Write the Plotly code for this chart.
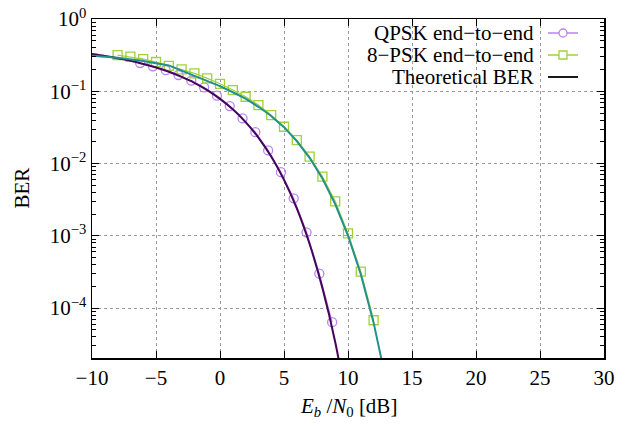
import plotly.graph_objects as go

# ---------------- data ----------------
qpsk_x = [-6.24, -5.24, -4.24, -3.24, -2.24, -1.24, -0.24, 0.76, 1.76, 2.76,
          3.76, 4.76, 5.76, 6.76, 7.76, 8.76]
qpsk_ber = [0.246, 0.222, 0.196, 0.168, 0.140, 0.113, 0.087, 0.0624, 0.0421, 0.0272,
            0.0152, 0.0076, 0.0033, 0.00112, 0.00030, 6.4e-5]

psk8_x = [-8, -7, -6, -5, -4, -3, -2, -1, 0, 1, 2, 3, 4, 5, 6, 7, 8, 9, 10, 11, 12]
psk8_ber = [0.317, 0.301, 0.279, 0.254, 0.225, 0.201, 0.177, 0.151, 0.127, 0.104,
            0.084, 0.0644, 0.0468, 0.0323, 0.0211, 0.0125, 0.0066, 0.0030, 0.00108,
            3.2e-4, 6.8e-5]

theo_qpsk_x = [-10, -9, -8, -7, -6, -5, -4, -3, -2, -1, 0, 1, 2, 3, 4, 5, 6, 7, 8, 9, 10]
theo_qpsk_ber = [0.327, 0.308, 0.287, 0.264, 0.239, 0.213, 0.186, 0.158, 0.131, 0.104,
                 0.0786, 0.0563, 0.0375, 0.0229, 0.0125, 0.00595, 0.00239, 7.7e-4,
                 1.9e-4, 3.4e-5, 3.9e-6]

theo_8psk_x = [-10, -8, -6, -4, -1.56, 0, 1, 2, 3, 3.9, 5, 6, 7, 8, 9, 10, 11, 12, 13]
theo_8psk_ber = [0.310, 0.290, 0.263, 0.228, 0.152, 0.118, 0.097, 0.079, 0.061, 0.047,
                 0.0319, 0.0205, 0.0120, 0.0062, 0.00275, 0.00101, 2.94e-4, 6.3e-5, 9.4e-6]

x_ticks = [-10, -5, 0, 5, 10, 15, 20, 25, 30]
x_ticktext = ["\u221210", "\u22125", "0", "5", "10", "15", "20", "25", "30"]
y_ticks = [1, 0.1, 0.01, 0.001, 0.0001]
y_ticktext = ["10<sup>0</sup>", "10<sup>\u22121</sup>", "10<sup>\u22122</sup>",
              "10<sup>\u22123</sup>", "10<sup>\u22124</sup>"]
legend_labels = ["QPSK end\u2212to\u2212end", "8\u2212PSK end\u2212to\u2212end", "Theoretical BER"]

# ---------------- styles ----------------
C_QPSK_PT = "#b883f2"
C_8PSK_PT = "#9ed13a"
C_QPSK_TH = "#44045a"
C_8PSK_TH = "#22908c"
FONT = "Liberation Serif"
FS = 21

# page body margin is removed by the post script below, so page px == figure px
W, H = 629, 427
PL, PR, PT, PB = 92, 604, 19, 358          # plot box in page pixels
L, T, R, B = PL, PT, W - PR, H - PB
PW, PH = PR - PL, PB - PT

fig = go.Figure()
fig.add_trace(go.Scatter(x=qpsk_x, y=qpsk_ber, mode="lines+markers",
                         line=dict(color=C_QPSK_PT, width=1.2),
                         marker=dict(symbol="circle-open", size=9, color=C_QPSK_PT,
                                     line=dict(width=1.3, color=C_QPSK_PT)),
                         showlegend=False))
fig.add_trace(go.Scatter(x=psk8_x, y=psk8_ber, mode="lines+markers",
                         line=dict(color=C_8PSK_PT, width=1.2),
                         marker=dict(symbol="square-open", size=9, color=C_8PSK_PT,
                                     line=dict(width=1.3, color=C_8PSK_PT)),
                         showlegend=False))
fig.add_trace(go.Scatter(x=theo_qpsk_x, y=theo_qpsk_ber, mode="lines",
                         line=dict(color=C_QPSK_TH, width=2, shape="spline", smoothing=0.8),
                         showlegend=False))
fig.add_trace(go.Scatter(x=theo_8psk_x, y=theo_8psk_ber, mode="lines",
                         line=dict(color=C_8PSK_TH, width=2),
                         showlegend=False))

minor_vals = [m * 10 ** e for e in range(-5, 0) for m in range(2, 10)]

fig.update_xaxes(range=[-10, 30], tickmode="array", tickvals=x_ticks, ticktext=x_ticktext,
                 automargin=False, ticklabeloverflow="allow",
                 ticks="inside", ticklen=7, tickcolor="black", tickwidth=1,
                 showline=True, linecolor="black", linewidth=1.5, mirror="ticks",
                 showgrid=True, gridcolor="#9a9a9a", griddash="dot", gridwidth=1,
                 zeroline=False, tickfont=dict(family=FONT, size=FS, color="black"))
fig.update_yaxes(type="log", range=[-4.69, 0], tickmode="array", tickvals=y_ticks,
                 ticktext=y_ticktext, automargin=False, ticklabeloverflow="allow",
                 ticks="inside", ticklen=7, tickcolor="black", tickwidth=1,
                 showline=True, linecolor="black", linewidth=1.5, mirror="ticks",
                 showgrid=True, gridcolor="#9a9a9a", griddash="dot", gridwidth=1,
                 zeroline=False, tickfont=dict(family=FONT, size=FS, color="black"),
                 minor=dict(tickmode="array", tickvals=minor_vals, ticks="inside",
                            ticklen=4, tickcolor="black", showgrid=False))

def px2paper(px, py):
    """page pixel -> paper coordinates of the plot box"""
    return (px - PL) / PW, (PB - py) / PH

annotations = []
bx, by = px2paper(21, (PT + PB) / 2)
annotations.append(dict(text="BER", x=bx, y=by, xref="paper", yref="paper",
                        xanchor="center", yanchor="middle", showarrow=False, textangle=-90,
                        font=dict(family=FONT, size=FS, color="black")))
tx, ty = px2paper((PL + PR) / 2, 407)
annotations.append(dict(text="<i>E</i><sub><i>b</i></sub> /<i>N</i><sub>0</sub> [dB]",
                        x=tx, y=ty, xref="paper", yref="paper",
                        xanchor="center", yanchor="middle", showarrow=False,
                        font=dict(family=FONT, size=FS, color="black")))

shapes = []
leg_rows = [33, 55, 77]
leg_colors = [C_QPSK_PT, C_8PSK_PT, "black"]
leg_syms = ["circle", "rect", None]
for lab, py, col, sym in zip(legend_labels, leg_rows, leg_colors, leg_syms):
    xt, yp = px2paper(536, py)
    annotations.append(dict(text=lab, x=xt, y=yp, xref="paper", yref="paper",
                            xanchor="right", yanchor="middle", showarrow=False,
                            font=dict(family=FONT, size=FS, color="black")))
    x0, _ = px2paper(548, py)
    x1, _ = px2paper(578, py)
    shapes.append(dict(type="line", xref="paper", yref="paper",
                       x0=x0, x1=x1, y0=yp, y1=yp,
                       line=dict(color=col, width=1.5 if sym else 1.8)))
    if sym:
        xc, _ = px2paper(563, py)
        shapes.append(dict(type=sym, xref="paper", yref="paper",
                           xsizemode="pixel", ysizemode="pixel",
                           xanchor=xc, yanchor=yp,
                           x0=-4, x1=4, y0=-4, y1=4,
                           line=dict(color=col, width=1.3), fillcolor="white"))

fig.update_layout(width=W, height=H, margin=dict(l=L, r=R, t=T, b=B, autoexpand=False),
                  paper_bgcolor="white", plot_bgcolor="white",
                  showlegend=False, annotations=annotations, shapes=shapes,
                  font=dict(family=FONT, size=FS, color="black"))

fig.write_html("out.html", config={"displayModeBar": False, "staticPlot": True},
               post_script="document.body.style.margin='0';document.body.style.overflow='hidden';")
